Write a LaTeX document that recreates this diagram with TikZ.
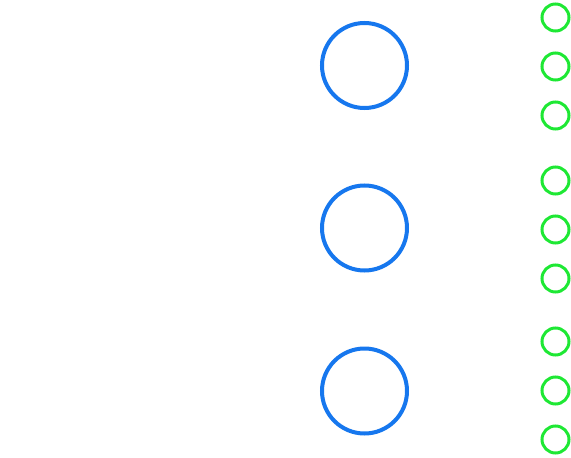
\documentclass[tikz,border=0pt]{standalone}
\usepackage{tikz}

\definecolor{hubblue}{RGB}{22,119,238}
\definecolor{leafgreen}{RGB}{30,232,52}

\tikzset{
  hub/.style={circle,draw=hubblue,line width=4pt,minimum size=85pt,inner sep=0pt},
  leaf/.style={circle,draw=leafgreen,line width=3pt,minimum size=27pt,inner sep=0pt}
}

\begin{document}
\begin{tikzpicture}[x=1pt,y=-1pt]

      \useasboundingbox (0,0) rectangle (571,458);

      % three hubs
      \node[hub] (hubA) at (364.5,65.5) {};
      \node[hub] (hubB) at (364.5,228) {};
      \node[hub] (hubC) at (364.5,391) {};

    \def\leafX{555.5};
      % leaves of the first hub
      \node[leaf] (leafA1) at (\leafX,17.5) {};
      \node[leaf] (leafA2) at (\leafX,66.5) {};
      \node[leaf] (leafA3) at (\leafX,115.5) {};
      % leaves of the second hub
      \node[leaf] (leafB1) at (\leafX,180.5) {};
      \node[leaf] (leafB2) at (\leafX,229.5) {};
      \node[leaf] (leafB3) at (\leafX,278.5) {};
      % leaves of the third hub
      \node[leaf] (leafC1) at (\leafX,341.5) {};
      \node[leaf] (leafC2) at (\leafX,390.5) {};
      \node[leaf] (leafC3) at (\leafX,439.5) {};

    \end{tikzpicture}
\end{document}
